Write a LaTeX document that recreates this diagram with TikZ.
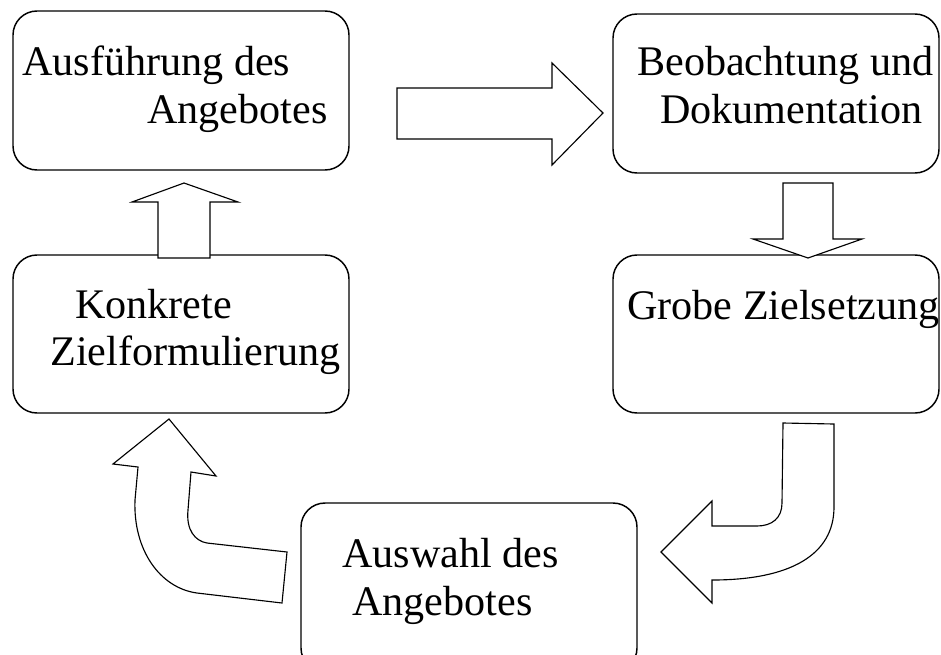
\documentclass[tikz,border=0pt]{standalone}
\usepackage{fontspec}
\setmainfont{Liberation Serif}
\begin{document}
\begin{tikzpicture}[x=0.75pt,y=-0.75pt,
  stagebox/.style={draw=black,line width=1.1pt,rounded corners=18pt,fill=none,inner sep=0pt,outer sep=0pt,rectangle},
  lbl/.style={anchor=base west,inner sep=0pt,font=\fontsize{31.6}{36}\selectfont},
  blockarrow/.style={draw=black,line width=0.85pt,fill=white,line join=miter}]
\useasboundingbox (0,0) rectangle (941,654);
\clip (0,0) rectangle (941,654);
\fill[white] (0,0) rectangle (941,654);
% boxes
\node[stagebox,minimum width=252pt,minimum height=119.25pt] (boxA) at (181,90.5) {};
\node[stagebox,minimum width=244.5pt,minimum height=119.25pt] (boxB) at (776,93.5) {};
\node[stagebox,minimum width=252pt,minimum height=118.5pt] (boxC) at (181,334) {};
\node[stagebox,minimum width=244.5pt,minimum height=118.5pt] (boxD) at (776,334) {};
\node[stagebox,minimum width=252pt,minimum height=126.75pt] (boxE) at (469,587.5) {};
% texts
\node[lbl] (a1) at (22,75) {Ausführung des};
\node[lbl] (a2) at (147,123) {Angebotes};
\node[lbl] (b1) at (637,75) {Beobachtung und};
\node[lbl] (b2) at (660,123) {Dokumentation};
\node[lbl] (c1) at (75,318) {Konkrete};
\node[lbl] (c2) at (50,365) {Zielformulierung};
\node[lbl] (d1) at (627,319) {Grobe Zielsetzung};
\node[lbl] (e1) at (342,567) {Auswahl des};
\node[lbl] (e2) at (352,615) {Angebotes};
% right arrow A -> B
\draw[blockarrow] (397,88) -- (552,88) -- (552,63) -- (603,113) -- (552,165) -- (552,139) -- (397,139) -- cycle;
% down arrow B -> D
\draw[blockarrow] (783,183) -- (833,183) -- (833,239) -- (862,239) -- (808,258) -- (753,239) -- (783,239) -- cycle;
% up arrow C -> A
\draw[blockarrow] (158,258) -- (158,202) -- (132,202) -- (184,183) -- (238,202) -- (210,202) -- (210,258) -- cycle;
% curved arrow D -> E
\draw[blockarrow] (783,423) -- (834,424) -- (834,507)
  .. controls (834,555) and (790,580) .. (712,580)
  -- (712,603) -- (661,552) -- (712,501) -- (712,526) -- (757,526)
  .. controls (772,526) and (782,518) .. (782,503) -- cycle;
% curved arrow E -> C
\draw[blockarrow] (169,419) -- (216,476) -- (191,472) -- (188,510)
  .. controls (186,530) and (195,541) .. (207,543)
  -- (287,552) -- (282,603) -- (197,593)
  .. controls (160,588) and (133,550) .. (135,500)
  -- (138,467) -- (113,464) -- cycle;
\end{tikzpicture}
\end{document}
